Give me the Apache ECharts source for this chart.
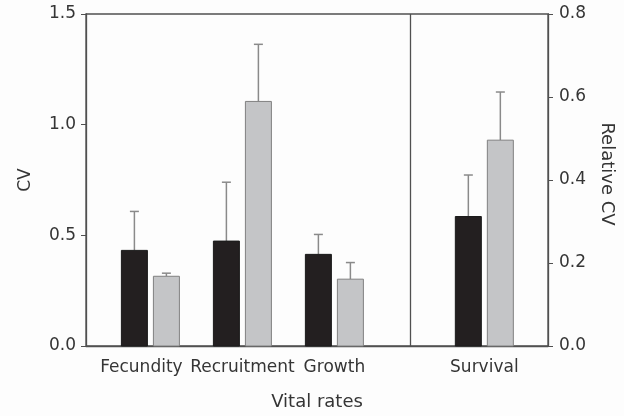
<!DOCTYPE html>
<html>
<head>
<meta charset="utf-8">
<script src="https://cdn.jsdelivr.net/npm/echarts@6/dist/echarts.min.js"></script>
<style>html,body{margin:0;padding:0;background:#fdfdfd;}#c{width:624px;height:416px;}</style>
</head>
<body>
<div id="c"></div>
<script>
// ---- data ----
var categories = ['Fecundity', 'Recruitment', 'Growth', 'Survival'];
// CV (left axis) for first three vital rates
var cvBlack      = [0.432, 0.474, 0.414];
var cvBlackErr   = [0.608, 0.740, 0.504];
var cvGray       = [0.315, 1.105, 0.302];
var cvGrayErr    = [0.329, 1.363, 0.377];
// Relative CV (right axis) for survival
var relBlack     = [0.312];
var relBlackErr  = [0.412];
var relGray      = [0.496];
var relGrayErr   = [0.612];
var leftTicks  = [0, 0.5, 1.0, 1.5];
var rightTicks = [0, 0.2, 0.4, 0.6, 0.8];

// ---- layout ----
var catPos = [1, 2, 3, 4.63];
var xMin = 0.3, xMax = 5.322, dividerX = 3.826;
var FONT = 'DejaVu Sans';
var TXT = '#353535';
var FRAME = '#505050';

function makeData(vals, errs, startIdx, side) {
  return vals.map(function (v, i) { return [catPos[startIdx + i], v, errs[i], side]; });
}

function renderBar(params, api) {
  var x = api.value(0), y = api.value(1), e = api.value(2), side = api.value(3);
  var top = api.coord([x, y]);
  var base = api.coord([x, 0]);
  var errTop = api.coord([x, e]);
  var bw = 26, off = 16 * side;
  var cx = top[0] + off;
  var isBlack = side < 0;
  return {
    type: 'group',
    children: [
      { type: 'line', shape: { x1: cx, y1: top[1], x2: cx, y2: errTop[1] },
        style: { stroke: '#8a8a8a', lineWidth: 1.5 } },
      { type: 'line', shape: { x1: cx - 4.5, y1: errTop[1], x2: cx + 4.5, y2: errTop[1] },
        style: { stroke: '#8a8a8a', lineWidth: 1.5 } },
      { type: 'rect', shape: { x: cx - bw / 2, y: top[1], width: bw, height: base[1] - top[1] },
        style: { fill: isBlack ? '#231f20' : '#c4c5c7', stroke: isBlack ? '#1a1a1a' : '#808080', lineWidth: 1 } }
    ]
  };
}

var chart = echarts.init(document.getElementById('c'));
chart.setOption({
  backgroundColor: '#fdfdfd',
  animation: false,
  grid: { left: 86, right: 76, top: 14, bottom: 69, show: true, borderColor: FRAME, borderWidth: 1.3, backgroundColor: 'transparent' },
  xAxis: {
    type: 'value', min: xMin, max: xMax,
    name: 'Vital rates', nameLocation: 'middle', nameGap: 47,
    nameTextStyle: { fontFamily: FONT, fontSize: 18, color: TXT },
    axisLine: { show: true, lineStyle: { color: FRAME, width: 1.3 } },
    axisTick: { show: false },
    splitLine: { show: false },
    axisLabel: {
      customValues: catPos, margin: 13,
      fontFamily: FONT, fontSize: 17, color: TXT,
      formatter: function (v) {
        for (var i = 0; i < catPos.length; i++) {
          if (Math.abs(catPos[i] - v) < 1e-6) {
            return i === 0 ? '{a|' + categories[i] + '}' : categories[i];
          }
        }
        return '';
      },
      rich: { a: { fontFamily: FONT, fontSize: 17, color: TXT, padding: [0, 18, 0, 0] } }
    }
  },
  yAxis: [{
    type: 'value', min: 0, max: 1.5, interval: 0.5, position: 'left',
    name: 'CV', nameLocation: 'middle', nameGap: 52,
    nameTextStyle: { fontFamily: FONT, fontSize: 17, color: TXT },
    axisLine: { show: true, lineStyle: { color: FRAME, width: 1.3 } },
    axisTick: { show: true, inside: false, length: 5, lineStyle: { color: FRAME } },
    splitLine: { show: false },
    axisLabel: { customValues: leftTicks, margin: 10, fontFamily: FONT, fontSize: 17, color: TXT,
      formatter: function (v) { return v.toFixed(1); } }
  }, {
    type: 'value', min: 0, max: 0.8, interval: 0.2, position: 'right',
    name: 'Relative CV', nameLocation: 'middle', nameGap: 50, nameRotate: -90,
    nameTextStyle: { fontFamily: FONT, fontSize: 18, color: TXT, padding: [0, 12, 0, 0] },
    axisLine: { show: true, lineStyle: { color: FRAME, width: 1.3 } },
    axisTick: { show: true, inside: false, length: 5, lineStyle: { color: FRAME } },
    splitLine: { show: false },
    axisLabel: { customValues: rightTicks, margin: 11, fontFamily: FONT, fontSize: 17, color: TXT,
      formatter: function (v) { return v.toFixed(1); } }
  }],
  series: [
    { type: 'custom', name: 'CV black', yAxisIndex: 0, renderItem: renderBar, clip: false,
      data: makeData(cvBlack, cvBlackErr, 0, -1),
      markLine: { silent: true, symbol: 'none', label: { show: false },
        lineStyle: { color: FRAME, width: 1.3, type: 'solid' },
        data: [{ xAxis: dividerX }] } },
    { type: 'custom', name: 'CV gray', yAxisIndex: 0, renderItem: renderBar, clip: false,
      data: makeData(cvGray, cvGrayErr, 0, 1) },
    { type: 'custom', name: 'Rel black', yAxisIndex: 1, renderItem: renderBar, clip: false,
      data: makeData(relBlack, relBlackErr, 3, -1) },
    { type: 'custom', name: 'Rel gray', yAxisIndex: 1, renderItem: renderBar, clip: false,
      data: makeData(relGray, relGrayErr, 3, 1) }
  ]
});
</script>
</body>
</html>
